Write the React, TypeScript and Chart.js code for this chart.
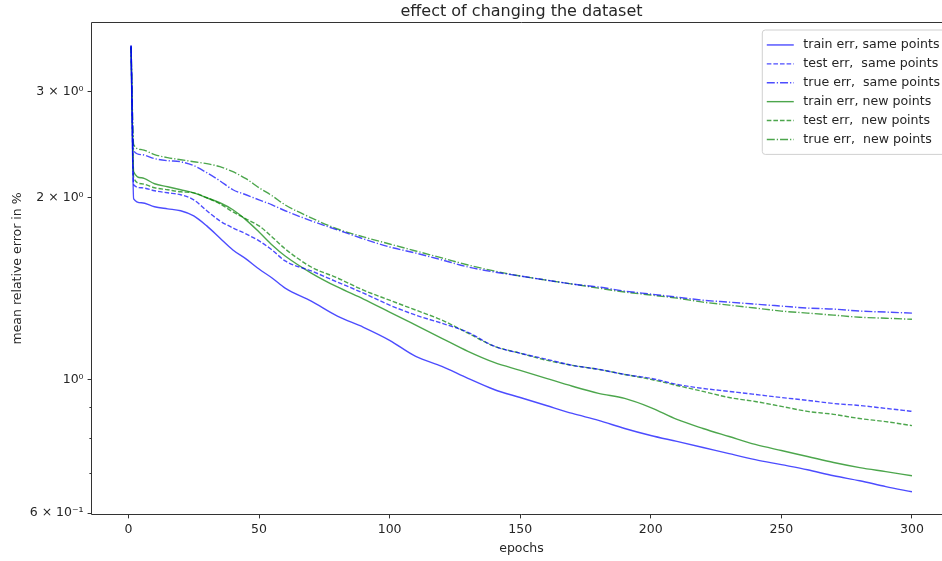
import React, { useEffect, useRef } from 'react';
import { Chart, registerables } from 'chart.js';

Chart.register(...registerables);

// ---------- data ----------
const epochs = [1, 2, 5, 10, 15, 20, 25, 30, 35, 40, 45, 50, 55, 60, 70, 80, 90, 100, 110, 120, 130, 140, 150, 160, 170, 180, 190, 200, 210, 220, 230, 240, 250, 260, 270, 280, 290, 300];

const trainSame = [3.56, 1.993, 1.963, 1.933, 1.918, 1.904, 1.867, 1.797, 1.716, 1.639, 1.584, 1.524, 1.473, 1.417,
  1.348, 1.273, 1.22, 1.161, 1.092, 1.051, 1.004, 0.962, 0.933, 0.905, 0.878, 0.855, 0.829, 0.807, 0.789, 0.771, 0.753, 0.736, 0.722, 0.708, 0.692, 0.679, 0.664, 0.651];

const testSame = [3.58, 2.103, 2.079, 2.055, 2.039, 2.024, 1.985, 1.904, 1.832, 1.783, 1.743, 1.697, 1.639, 1.572,
  1.513, 1.45, 1.39, 1.328, 1.278, 1.239, 1.197, 1.135, 1.105, 1.08, 1.055, 1.039, 1.019, 1.004, 0.981, 0.966, 0.955, 0.944, 0.933, 0.923, 0.912, 0.905, 0.895, 0.885];

const trueSame = [3.58, 2.395, 2.359, 2.323, 2.305, 2.296, 2.262, 2.202, 2.135, 2.063, 2.024, 1.985, 1.947, 1.904,
  1.832, 1.77, 1.71, 1.658, 1.62, 1.578, 1.536, 1.507, 1.484, 1.461, 1.439, 1.423, 1.401, 1.385, 1.369, 1.353, 1.343, 1.333, 1.323, 1.313, 1.308, 1.298, 1.293, 1.288];

const trainNew = [3.57, 2.21, 2.16, 2.111, 2.087, 2.063, 2.039, 2.001, 1.963, 1.911, 1.839, 1.756, 1.671, 1.602,
  1.501, 1.423, 1.359, 1.293, 1.23, 1.17, 1.113, 1.067, 1.035, 1.004, 0.974, 0.948, 0.93, 0.898, 0.858, 0.829, 0.804, 0.78, 0.762, 0.745, 0.728, 0.714, 0.703, 0.692];

const testNew = [3.55, 2.16, 2.111, 2.079, 2.063, 2.047, 2.039, 2.001, 1.955, 1.896, 1.846, 1.797, 1.723, 1.646,
  1.536, 1.473, 1.406, 1.353, 1.303, 1.254, 1.193, 1.135, 1.105, 1.076, 1.055, 1.039, 1.019, 1.0, 0.977, 0.955, 0.933, 0.919, 0.902, 0.885, 0.875, 0.861, 0.851, 0.838];

const trueNew = [3.57, 2.451, 2.405, 2.359, 2.332, 2.314, 2.296, 2.279, 2.253, 2.21, 2.152, 2.079, 2.016, 1.947,
  1.853, 1.776, 1.723, 1.677, 1.633, 1.59, 1.548, 1.513, 1.484, 1.461, 1.439, 1.417, 1.396, 1.38, 1.364, 1.343, 1.328, 1.313, 1.298, 1.288, 1.278, 1.268, 1.263, 1.258];

const seriesLabels = [
  'train err, same points',
  'test err,  same points',
  'true err,  same points',
  'train err, new points',
  'test err,  new points',
  'true err,  new points',
];

const xTickValues = [0, 50, 100, 150, 200, 250, 300];
const yTickValues = [0.6, 0.7, 0.8, 0.9, 1, 2, 3];
const yTickLabels = ['6 × 10⁻¹', '', '', '', '10⁰', '2 × 10⁰', '3 × 10⁰'];
const yTickMajor = [true, false, false, false, true, true, true];

const titleText = 'effect of changing the dataset';
const xTitle = 'epochs';
const yTitle = 'mean relative error in %';

// ---------- styles ----------
const FONT = "'DejaVu Sans', sans-serif";
const TXT = '#262626';
const AXIS = '#333333';
const BLUE = 'rgba(0,0,255,0.7)';
const GREEN = 'rgba(0,128,0,0.7)';
const SOLID: number[] = [];
const DASHED = [4.6, 2];
const DASHDOT = [8, 2, 1.25, 2];

const seriesValues = [trainSame, testSame, trueSame, trainNew, testNew, trueNew];
const seriesColors = [BLUE, BLUE, BLUE, GREEN, GREEN, GREEN];
const seriesDashes = [SOLID, DASHED, DASHDOT, SOLID, DASHED, DASHDOT];

const CANVAS_W = 1000;
const PLOT_RIGHT = 951;

const decorPlugin = {
  id: 'decor',
  afterDraw(chart: any) {
    const { ctx, chartArea: a } = chart;
    ctx.save();
    // frame: left, top, bottom (the right side lies beyond the visible window)
    ctx.strokeStyle = AXIS;
    ctx.lineWidth = 1;
    ctx.setLineDash([]);
    const L = Math.round(a.left) - 0.5;
    const T = Math.round(a.top) - 0.5;
    const B = Math.round(a.bottom) + 0.5;
    const R = Math.round(a.right) + 0.5;
    ctx.beginPath();
    ctx.moveTo(R, T);
    ctx.lineTo(L, T);
    ctx.lineTo(L, B);
    ctx.lineTo(R, B);
    ctx.lineTo(R, T);
    ctx.stroke();

    // minor y ticks
    const ys = chart.scales.y;
    yTickValues.forEach((v, i) => {
      if (yTickMajor[i]) return;
      const py = Math.round(ys.getPixelForValue(v)) + 0.5;
      ctx.beginPath();
      ctx.moveTo(a.left - 2.6, py);
      ctx.lineTo(a.left, py);
      ctx.stroke();
    });

    // title
    ctx.fillStyle = TXT;
    ctx.font = `16px ${FONT}`;
    ctx.textAlign = 'center';
    ctx.textBaseline = 'middle';
    ctx.fillText(titleText, (a.left + a.right) / 2, 12);

    // legend
    const fs = 12.6;
    ctx.font = `${fs}px ${FONT}`;
    const textW = Math.max(...seriesLabels.map((t) => ctx.measureText(t).width));
    const pad = 5;
    const handleLen = 27;
    const handlePad = 9.5;
    const rowH = 18.9;
    const boxRight = a.right - 6;
    const boxTop = a.top + 6.5;
    const boxW = pad + handleLen + handlePad + textW + pad;
    const boxH = pad * 2 + rowH * seriesLabels.length + 1;
    const boxLeft = boxRight - boxW;
    ctx.beginPath();
    if ((ctx as any).roundRect) (ctx as any).roundRect(boxLeft + 0.5, boxTop + 0.5, boxW, boxH, 3);
    else ctx.rect(boxLeft + 0.5, boxTop + 0.5, boxW, boxH);
    ctx.fillStyle = 'rgba(255,255,255,0.8)';
    ctx.fill();
    ctx.strokeStyle = '#d0d0d0';
    ctx.lineWidth = 1;
    ctx.stroke();

    ctx.textAlign = 'left';
    ctx.textBaseline = 'middle';
    seriesLabels.forEach((label, i) => {
      const cy = boxTop + pad + rowH * (i + 0.5) + 1;
      const hx = boxLeft + pad;
      ctx.beginPath();
      ctx.strokeStyle = seriesColors[i];
      ctx.lineWidth = 1.4;
      ctx.setLineDash(seriesDashes[i]);
      ctx.moveTo(hx, cy);
      ctx.lineTo(hx + handleLen, cy);
      ctx.stroke();
      ctx.setLineDash([]);
      ctx.fillStyle = TXT;
      ctx.fillText(label, hx + handleLen + handlePad, cy);
    });
    ctx.restore();
  },
};

export default function App() {
  const canvasRef = useRef<HTMLCanvasElement | null>(null);

  useEffect(() => {
    if (!canvasRef.current) return;
    const datasets = seriesValues.map((vals, i) => ({
      label: seriesLabels[i],
      data: epochs.map((e, j) => ({ x: e, y: vals[j] })),
      borderColor: seriesColors[i],
      backgroundColor: seriesColors[i],
      borderDash: seriesDashes[i],
      borderWidth: 1.4,
      pointRadius: 0,
      fill: false,
      cubicInterpolationMode: 'monotone' as const,
    }));

    const chart = new Chart(canvasRef.current, {
      type: 'line',
      data: { datasets },
      plugins: [decorPlugin],
      options: {
        animation: false,
        responsive: false,
        maintainAspectRatio: false,
        devicePixelRatio: 1,
        layout: { padding: { top: 23, right: CANVAS_W - PLOT_RIGHT, left: 0, bottom: 0 } },
        plugins: {
          legend: { display: false },
          title: { display: false },
          tooltip: { enabled: false },
        },
        scales: {
          x: {
            type: 'linear',
            min: -13.95,
            max: 314.95,
            afterBuildTicks: (s: any) => {
              s.ticks = xTickValues.map((v) => ({ value: v }));
            },
            afterFit: (s: any) => {
              s.height = 47;
            },
            ticks: {
              autoSkip: false,
              maxRotation: 0,
              padding: 4,
              color: TXT,
              font: { family: FONT, size: 12.5 },
              callback: (v: any) => String(v),
            },
            grid: {
              display: true,
              drawOnChartArea: false,
              drawTicks: true,
              tickLength: 4.4,
              tickColor: AXIS,
              tickWidth: 1,
            },
            border: { display: false },
            title: {
              display: true,
              text: xTitle,
              color: TXT,
              font: { family: FONT, size: 12.5 },
              padding: { top: 0, bottom: 5 },
            },
          },
          y: {
            type: 'logarithmic',
            min: 0.598,
            max: 3.9,
            afterBuildTicks: (s: any) => {
              s.ticks = yTickValues.map((v) => ({ value: v }));
            },
            afterFit: (s: any) => {
              s.width = 92;
            },
            ticks: {
              autoSkip: false,
              padding: 4,
              color: TXT,
              font: { family: FONT, size: 12.5 },
              callback: (_v: any, i: number) => yTickLabels[i],
            },
            grid: {
              display: true,
              drawOnChartArea: false,
              drawTicks: true,
              tickLength: 4.4,
              tickWidth: 1,
              tickColor: (c: any) => (yTickMajor[c.index] ? AXIS : 'rgba(0,0,0,0)'),
            },
            border: { display: false },
            title: {
              display: true,
              text: yTitle,
              color: TXT,
              font: { family: FONT, size: 12.5 },
              padding: { top: 10, bottom: 0 },
            },
          },
        },
      } as any,
    });
    return () => chart.destroy();
  }, []);

  return (
    <div style={{ position: 'fixed', left: 0, top: 0, width: 942, height: 561, overflow: 'hidden', background: '#fff' }}>
      <canvas ref={canvasRef} width={CANVAS_W} height={561} style={{ display: 'block', width: CANVAS_W, height: 561 }} />
    </div>
  );
}
